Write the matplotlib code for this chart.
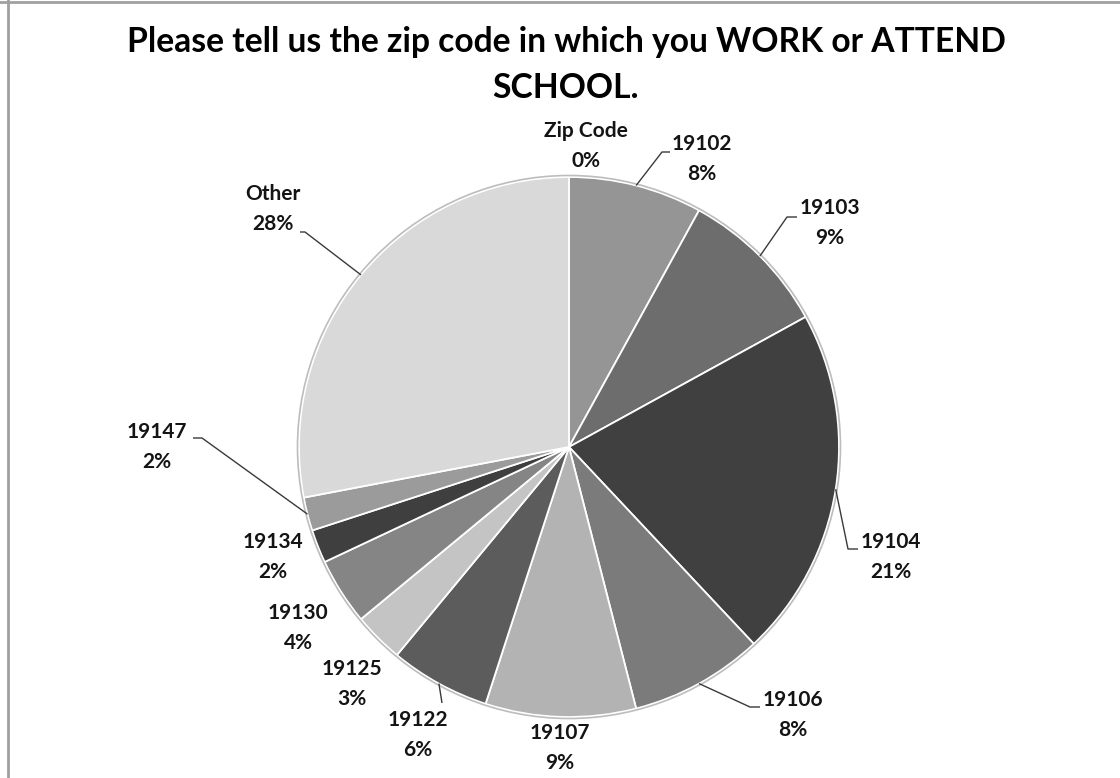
import matplotlib
matplotlib.use("Agg")
import numpy as np
import matplotlib.pyplot as plt
from matplotlib.lines import Line2D
from matplotlib.patches import Circle

# survey answers, share of respondents (%)
zips = ["Zip Code", "19102", "19103", "19104", "19106", "19107",
        "19122", "19125", "19130", "19134", "19147", "Other"]
shares = [0, 8, 9, 21, 8, 9, 6, 3, 4, 2, 2, 28]
shades = ["#8c8c8c", "#959595", "#6d6d6d", "#404040", "#7b7b7b", "#b3b3b3",
          "#5c5c5c", "#c4c4c4", "#858585", "#3f3f3f", "#9b9b9b", "#d9d9d9"]

title = "Please tell us the zip code in which you WORK or ATTEND\nSCHOOL."

# label centres, pixels relative to the pie centre (y up)
label_pos = {
    "Zip Code": (17, 301), "19102": (133, 288), "19103": (261, 224),
    "19104": (322, -110), "19106": (224, -268), "19107": (-9, -301),
    "19122": (-151, -288), "19125": (-217, -237), "19130": (-271, -181),
    "19134": (-296, -110), "19147": (-412, 0), "Other": (-296, 238),
}
# leader line elbow and end next to the label
leaders = {
    "19102": ((93, 295), (101, 295)),
    "19103": ((218, 230), (228, 230)),
    "19104": ((279, -102), (289, -102)),
    "19106": ((181, -260), (191, -260)),
    "19122": ((-127, -256), (-127, -256)),
    "19147": ((-367, 9), (-376, 9)),
    "Other": ((-264, 215), (-269, 215)),
}

W, H = 1120, 778
CX, CY = 569, 447
R = 270

fig = plt.figure(figsize=(W / 100, H / 100), dpi=100)
fig.patch.set_facecolor("white")
ax = fig.add_axes([0, 0, 1, 1])

wedges, _ = ax.pie(shares, colors=shades, radius=R, startangle=90,
                   counterclock=False,
                   wedgeprops=dict(edgecolor="white", linewidth=1.3))
ax.add_patch(Circle((0, 0), R + 1.5, fill=False, edgecolor="#bdbdbd", lw=1.2))

ax.set_xlim(-CX, W - CX)
ax.set_ylim(-(H - CY), CY)
ax.set_aspect("equal")
ax.axis("off")

font = ["Lato", "DejaVu Sans"]
for name, val, w in zip(zips, shares, wedges):
    x, y = label_pos[name]
    ax.text(x, y, f"{name}\n{val}%", ha="center", va="center",
            fontsize=15, family=font, fontweight="bold",
            color="#141414", linespacing=1.65)
    if name in leaders:
        mid = np.deg2rad((w.theta1 + w.theta2) / 2)
        sx, sy = R * np.cos(mid), R * np.sin(mid)
        (ex, ey), (tx, ty) = leaders[name]
        ax.plot([sx, ex, tx], [sy, ey, ty], color="#3a3a3a", lw=1.0,
                solid_capstyle="butt")

fig.text(566 / W, 1 - 65 / H, title, ha="center", va="center",
         fontsize=24.2, family=font, fontweight="bold", color="black",
         linespacing=1.55)

# chart area frame (top and left edges)
fig.add_artist(Line2D([0, 1], [1 - 1.5 / H] * 2, color="#a0a0a0", lw=2))
fig.add_artist(Line2D([7.5 / W] * 2, [0, 1], color="#a0a0a0", lw=2))

fig.savefig("out.png", dpi=100, facecolor="white")
